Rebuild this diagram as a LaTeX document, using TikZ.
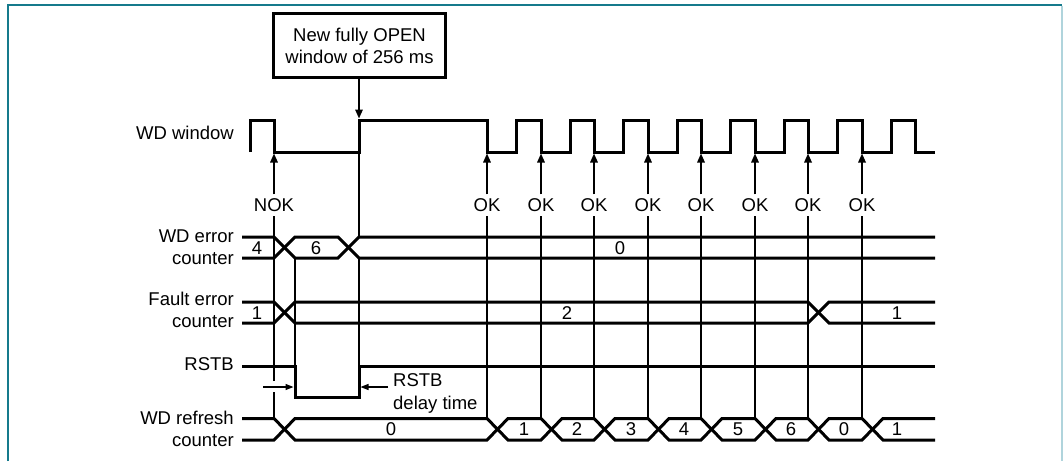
\documentclass[tikz,border=0pt]{standalone}
\usepackage{fontspec}
\setmainfont{Liberation Sans}
\usetikzlibrary{arrows.meta}
\definecolor{frameC}{RGB}{21,122,140}
\definecolor{frameR}{RGB}{176,212,220}
\tikzset{
  sig/.style={line width=3pt, line join=miter},
  vline/.style={line width=1.6pt},
  ptr/.style={line width=1.6pt, -{Triangle[length=9pt,width=7.5pt]}},
  smallptr/.style={line width=1.3pt, -{Triangle[length=8pt,width=6pt]}},
  txt/.style={font=\fontsize{18.5}{22}\selectfont},
  lbl/.style={txt, inner sep=0pt, anchor=east, align=right},
  val/.style={txt, inner sep=0pt},
  ok/.style={txt, inner sep=4pt},
}
\begin{document}
\begin{tikzpicture}[x=1pt,y=-1pt]
\useasboundingbox (0,0) rectangle (1064,461);
% frame
\draw[frameC, line width=2pt] (7.5,461) -- (7.5,4.5) -- (1062,4.5);
\draw[frameR, line width=2pt] (1062,5.5) -- (1062,461);

% signal labels
\node[lbl] (lwin) at (234,133) {WD window};
\node[lbl] (lerr) at (234,247) {WD error\\counter};
\node[lbl] (lflt) at (234,310) {Fault error\\counter};
\node[lbl] (lrst) at (234,364) {RSTB};
\node[lbl] (lref) at (234,429) {WD refresh\\counter};

% WD window
\draw[sig] (250,152) -- (250,120) -- (274,120) -- (274,152) -- (359,152) -- (359,120) -- (487,120)
  -- (487,152) -- (516,152) -- (516,120) -- (541,120) -- (541,152) -- (570,152) -- (570,120)
  -- (594,120) -- (594,152) -- (623,152) -- (623,120) -- (648,120) -- (648,152) -- (677,152)
  -- (677,120) -- (701,120) -- (701,152) -- (730,152) -- (730,120) -- (755,120) -- (755,152)
  -- (784,152) -- (784,120) -- (808,120) -- (808,152) -- (837,152) -- (837,120) -- (862,120)
  -- (862,152) -- (891,152) -- (891,120) -- (915,120) -- (915,152) -- (935,152);

% box
\node[draw, line width=3pt, minimum width=172, minimum height=64, inner sep=0pt,
      align=center, font=\fontsize{18.5}{22}\selectfont] (box) at (359.5,45.5)
      {New fully OPEN\\window of 256 ms};
\coordinate (wopen) at (359,118.5);
\draw[ptr] (box.south -| wopen) -- (wopen);

% WD error counter
\draw[sig] (242,237) -- (274,237) -- (295,258) -- (338,258) -- (359,237) -- (935,237);
\draw[sig] (242,258) -- (274,258) -- (295,237) -- (338,237) -- (359,258) -- (935,258);
\node[val] (e4) at (257,248) {4};
\node[val] (e6) at (316,248) {6};
\node[val] (e0) at (620,248) {0};

% Fault error counter
\draw[sig] (242,302) -- (274,302) -- (295,323) -- (808,323) -- (829,302) -- (935,302);
\draw[sig] (242,323) -- (274,323) -- (295,302) -- (808,302) -- (829,323) -- (935,323);
\node[val] (f1) at (257,313) {1};
\node[val] (f2) at (567,313) {2};
\node[val] (f1b) at (897,313) {1};

% RSTB
\draw[sig] (242,366) -- (295,366) -- (295,397) -- (359,397) -- (359,366) -- (935,366);

% WD refresh counter
\draw[sig] (242,418.5) -- (274,418.5) -- (295,440) -- (487,440) -- (508,418.5) -- (541,418.5)
  -- (562,440) -- (594,440) -- (615,418.5) -- (648,418.5) -- (669,440) -- (701,440)
  -- (722,418.5) -- (755,418.5) -- (776,440) -- (808,440) -- (829,418.5) -- (862,418.5)
  -- (883,440) -- (935,440);
\draw[sig] (242,440) -- (274,440) -- (295,418.5) -- (487,418.5) -- (508,440) -- (541,440)
  -- (562,418.5) -- (594,418.5) -- (615,440) -- (648,440) -- (669,418.5) -- (701,418.5)
  -- (722,440) -- (755,440) -- (776,418.5) -- (808,418.5) -- (829,440) -- (862,440)
  -- (883,418.5) -- (935,418.5);
\foreach \v/\x [count=\i] in {0/391,1/524,2/577,3/631,4/684,5/738,6/791,0/844,1/897}
  \node[val] (r\i) at (\x,429.5) {\v};

% dependency lines
\coordinate (d295a) at (295,258);
\coordinate (d295b) at (295,366);
\draw[vline] (d295a) -- (d295b);
\coordinate (d359a) at (359,152);
\coordinate (d359b) at (359,237);
\coordinate (d359c) at (359,258);
\coordinate (d359d) at (359,366);
\draw[vline] (d359a) -- (d359b);
\draw[vline] (d359c) -- (d359d);

% NOK arrow
\coordinate (nokb) at (274,418.5);
\coordinate (nokg1) at (274,392);
\coordinate (nokg2) at (274,381);
\coordinate (nokt) at (274,153.5);
\node[ok] (nok) at (274,205) {NOK};
\draw[vline] (nokb) -- (nokg1);
\draw[vline] (nokg2) -- (nok);
\draw[ptr] (nok) -- (nokt);

% OK arrows
\foreach \x [count=\i] in {487,541,594,648,701,755,808,862} {
  \coordinate (okb\i) at (\x,418.5);
  \coordinate (okt\i) at (\x,153.5);
  \node[ok] (ok\i) at (\x,205) {OK};
  \draw[vline] (okb\i) -- (ok\i);
  \draw[ptr] (ok\i) -- (okt\i);
}

% RSTB delay time markers
\coordinate (rsa) at (263,387);
\coordinate (rsb) at (293.5,387);
\coordinate (rsc) at (388,387);
\coordinate (rsd) at (360.5,387);
\draw[smallptr] (rsa) -- (rsb);
\draw[smallptr] (rsc) -- (rsd);
\node[txt, inner sep=0pt, anchor=west, align=left, font=\fontsize{18.5}{23}\selectfont] (delay) at (393,393) {RSTB\\delay time};
\end{tikzpicture}
\end{document}
